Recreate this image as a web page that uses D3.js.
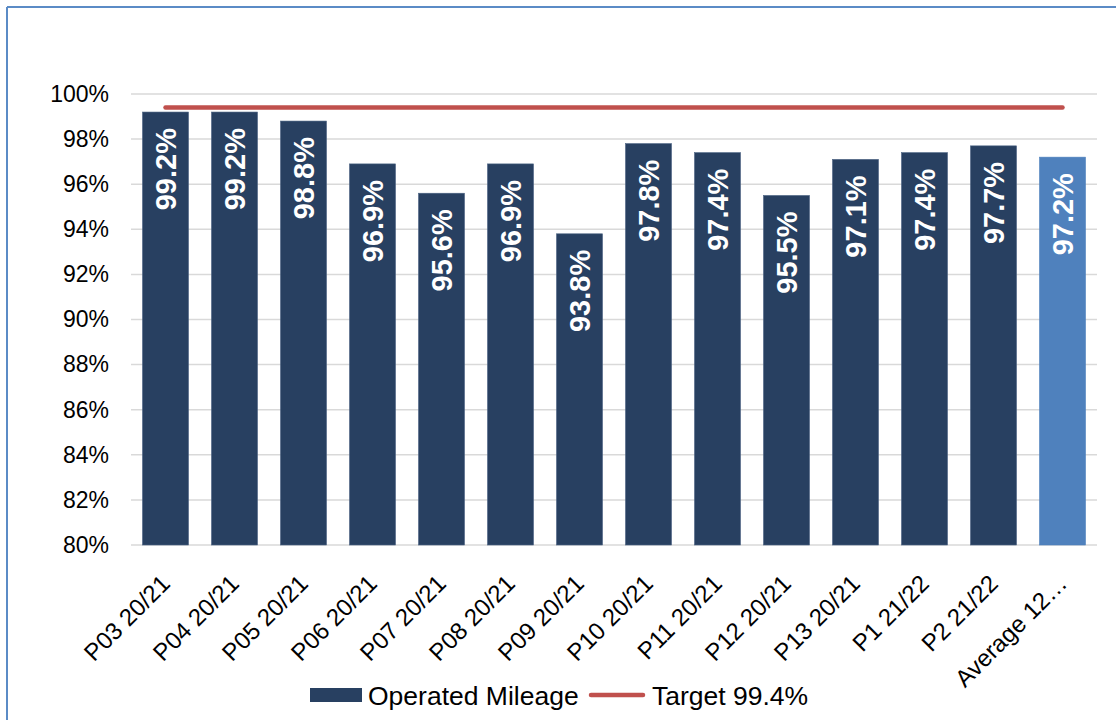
<!DOCTYPE html>
<html>
<head>
<meta charset="utf-8">
<script src="https://cdn.jsdelivr.net/npm/d3@7"></script>
<style>
  html, body { margin: 0; padding: 0; background: #fff; }
  svg { display: block; font-family: "Liberation Sans", Arial, sans-serif; }
</style>
</head>
<body>
<div id="chart"></div>
<script>
// Operated mileage by period, with the 99.4% target line
const categories = ['P03 20/21', 'P04 20/21', 'P05 20/21', 'P06 20/21', 'P07 20/21', 'P08 20/21', 'P09 20/21',
  'P10 20/21', 'P11 20/21', 'P12 20/21', 'P13 20/21', 'P1 21/22', 'P2 21/22', 'Average 12…'];
const mileage = [0.992, 0.992, 0.988, 0.969, 0.956, 0.969, 0.938, 0.978, 0.974, 0.955, 0.971, 0.974, 0.977, 0.972];
const target = 0.994;
const yTicks = [0.80, 0.82, 0.84, 0.86, 0.88, 0.90, 0.92, 0.94, 0.96, 0.98, 1.00];

const W = 1116, H = 720;
const margin = { top: 94, right: 19, bottom: 175, left: 131 };

const DARK = '#284061';
const AVG = '#4f81bd';
const RED = '#c0504d';

const svg = d3.select('#chart').append('svg')
  .attr('width', W)
  .attr('height', H);

// outer frame (only top and left edges visible)
svg.append('line')
  .attr('x1', 7).attr('x2', W).attr('y1', 7).attr('y2', 7)
  .attr('stroke', '#5b8bc6').attr('stroke-width', 2);
svg.append('line')
  .attr('x1', 7).attr('x2', 7).attr('y1', 7).attr('y2', H)
  .attr('stroke', '#5b8bc6').attr('stroke-width', 2);

const x = d3.scaleBand()
  .domain(categories)
  .range([margin.left, W - margin.right])
  .paddingInner(1 / 3)
  .paddingOuter(1 / 6);

const y = d3.scaleLinear()
  .domain([0.8, 1.0])
  .range([H - margin.bottom, margin.top]);

// grid lines
svg.append('g')
  .selectAll('line')
  .data(yTicks)
  .enter()
  .append('line')
  .attr('x1', margin.left)
  .attr('x2', W - margin.right)
  .attr('y1', d => y(d))
  .attr('y2', d => y(d))
  .attr('stroke', '#d9d9d9')
  .attr('stroke-width', 1.5);

// y axis labels
const yAxis = svg.append('g')
  .attr('transform', `translate(${margin.left},0)`)
  .call(d3.axisLeft(y).tickValues(yTicks).tickFormat(d3.format('.0%')).tickSize(0).tickPadding(22));
yAxis.select('.domain').remove();
yAxis.selectAll('text')
  .attr('font-size', '23px')
  .attr('font-family', '"Liberation Sans", Arial, sans-serif')
  .attr('fill', '#000');

// bars
svg.append('g')
  .selectAll('rect')
  .data(mileage)
  .enter()
  .append('rect')
  .attr('x', (d, i) => x(categories[i]))
  .attr('y', d => y(d))
  .attr('width', x.bandwidth())
  .attr('height', d => y(0.8) - y(d))
  .attr('fill', (d, i) => i === categories.length - 1 ? AVG : DARK)
  .attr('stroke', (d, i) => i === categories.length - 1 ? AVG : '#4a6282')
  .attr('stroke-width', 0.6);

// value labels inside bars
svg.append('g')
  .selectAll('text')
  .data(mileage)
  .enter()
  .append('text')
  .attr('transform', (d, i) => `translate(${x(categories[i]) + x.bandwidth() / 2},${y(d) + 16}) rotate(-90)`)
  .attr('text-anchor', 'end')
  .attr('dy', '0.36em')
  .attr('font-size', '29px')
  .attr('font-weight', 'bold')
  .attr('fill', '#fff')
  .text(d => d3.format('.1%')(d));

// target line
svg.append('line')
  .attr('x1', x(categories[0]) + x.bandwidth() / 2)
  .attr('x2', x(categories[categories.length - 1]) + x.bandwidth() / 2)
  .attr('y1', y(target))
  .attr('y2', y(target))
  .attr('stroke', RED)
  .attr('stroke-width', 4.5)
  .attr('stroke-linecap', 'round');

// category labels
svg.append('g')
  .selectAll('text')
  .data(categories)
  .enter()
  .append('text')
  .attr('transform', d => `translate(${x(d) + x.bandwidth() / 2 + 6},${y(0.8) + 40}) rotate(-45)`)
  .attr('text-anchor', 'end')
  .attr('font-size', '24px')
  .attr('fill', '#000')
  .text(d => d);

// legend
const legend = svg.append('g').attr('transform', 'translate(0,695)');
legend.append('rect')
  .attr('x', 310).attr('y', -7).attr('width', 52).attr('height', 14)
  .attr('fill', DARK);
legend.append('text')
  .attr('x', 368).attr('dy', '0.36em')
  .attr('font-size', '26.5px').attr('fill', '#000')
  .text('Operated Mileage');
legend.append('line')
  .attr('x1', 591).attr('x2', 643)
  .attr('stroke', RED).attr('stroke-width', 4.5).attr('stroke-linecap', 'round');
legend.append('text')
  .attr('x', 652).attr('dy', '0.36em')
  .attr('font-size', '26.5px').attr('fill', '#000')
  .text('Target 99.4%');
</script>
</body>
</html>
